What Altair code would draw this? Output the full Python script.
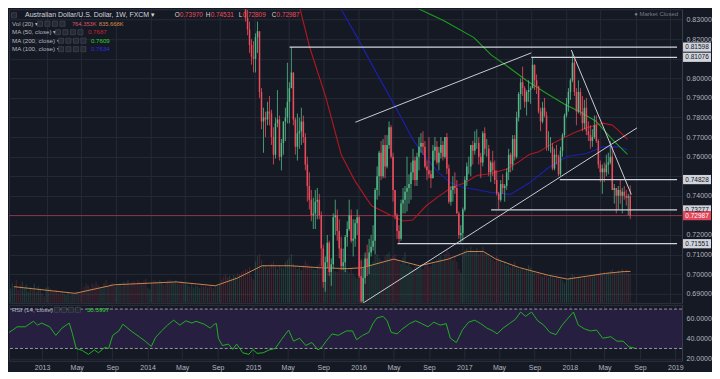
import altair as alt
import pandas as pd
import numpy as np

# ---------------- data ----------------
FIRST_WEEK = "2012-08-27"
closes_2012 = [1.0310, 1.0440, 1.0560, 1.0470, 1.0380, 1.0230, 1.0240, 1.0380, 1.0380, 1.0400,
               1.0410, 1.0360, 1.0460, 1.0430, 1.0460, 1.0540, 1.0470, 1.0380, 1.0470]
closes_2013 = [1.0530, 1.0500, 1.0430, 1.0410, 1.0320, 1.0300, 1.0220, 1.0190, 1.0250, 1.0410,
               1.0460, 1.0420, 1.0480, 1.0550, 1.0270, 1.0310, 1.0210, 1.0020, 0.9830, 0.9620,
               0.9680, 0.9540, 0.9530, 0.9290, 0.9140, 0.9060, 0.9170, 0.9270, 0.9280, 0.8920,
               0.9170, 0.9130, 0.8970, 0.8930, 0.9200, 0.9290, 0.9340, 0.9310, 0.9450, 0.9420,
               0.9680, 0.9570, 0.9450, 0.9410, 0.9370, 0.9170, 0.9090, 0.9100, 0.9000, 0.8870,
               0.8900, 0.8930]
closes_2014 = [0.9000, 0.8800, 0.8740, 0.8740, 0.8930, 0.9030, 0.8970, 0.8930, 0.9030, 0.9010,
               0.9120, 0.9270, 0.9310, 0.9400, 0.9330, 0.9280, 0.9290, 0.9350, 0.9370, 0.9250,
               0.9300, 0.9320, 0.9390, 0.9410, 0.9430, 0.9360, 0.9400, 0.9390, 0.9400, 0.9290,
               0.9280, 0.9310, 0.9300, 0.9360, 0.9360, 0.9070, 0.8970, 0.8740, 0.8710, 0.8780,
               0.8750, 0.8750, 0.8800, 0.8640, 0.8700, 0.8620]
# candles visible in the pane (from 2014-11-24)
closes_c = [0.8500, 0.8310, 0.8250, 0.8170, 0.8110, 0.8100,
            # 2015
            0.8210, 0.8240, 0.7930, 0.7780, 0.7800, 0.7790, 0.7830, 0.7820, 0.7700, 0.7610,
            0.7770, 0.7790, 0.7600, 0.7670, 0.7780, 0.7800, 0.7880, 0.7950, 0.8030, 0.7790,
            0.7650, 0.7720, 0.7730, 0.7780, 0.7700, 0.7560, 0.7450, 0.7380, 0.7300, 0.7310,
            0.7370, 0.7380, 0.7300, 0.7130, 0.6960, 0.7060, 0.7160, 0.7010, 0.7050, 0.7290,
            0.7300, 0.7220, 0.7130, 0.7040, 0.7060, 0.7190, 0.7230, 0.7300, 0.7170, 0.7180,
            0.7260, 0.7290,
            # 2016
            0.6990, 0.6860, 0.6980, 0.7080, 0.7040, 0.7110, 0.7140, 0.7170, 0.7430, 0.7500,
            0.7620, 0.7500, 0.7660, 0.7550, 0.7660, 0.7750, 0.7600, 0.7430, 0.7300, 0.7220,
            0.7180, 0.7360, 0.7380, 0.7420, 0.7440, 0.7460, 0.7520, 0.7580, 0.7480, 0.7600,
            0.7650, 0.7670, 0.7650, 0.7550, 0.7530, 0.7510, 0.7490, 0.7630, 0.7650, 0.7570,
            0.7620, 0.7660, 0.7600, 0.7700, 0.7540, 0.7370, 0.7430, 0.7450, 0.7440, 0.7310,
            0.7200, 0.7210,
            # 2017
            0.7330, 0.7480, 0.7550, 0.7550, 0.7660, 0.7630, 0.7670, 0.7670, 0.7600, 0.7570,
            0.7720, 0.7640, 0.7640, 0.7520, 0.7570, 0.7530, 0.7480, 0.7410, 0.7380, 0.7460,
            0.7440, 0.7450, 0.7520, 0.7610, 0.7560, 0.7690, 0.7600, 0.7800, 0.7920, 0.7980,
            0.7950, 0.7880, 0.7930, 0.7940, 0.7950, 0.8070, 0.7990, 0.7960, 0.7830, 0.7780,
            0.7850, 0.7810, 0.7650, 0.7650, 0.7650, 0.7540, 0.7610, 0.7600, 0.7510, 0.7630,
            0.7710, 0.7810,
            # 2018
            0.7870, 0.7930, 0.7990, 0.8080, 0.7930, 0.7830, 0.7930, 0.7830, 0.7770, 0.7850,
            0.7730, 0.7710, 0.7680, 0.7700, 0.7760, 0.7680, 0.7560, 0.7520, 0.7540, 0.7520,
            0.7560, 0.7570, 0.7600, 0.7430, 0.7440, 0.7400, 0.7430, 0.7400, 0.7420, 0.7400,
            0.7390, 0.7397, 0.72987]
highs_c = [0.8640, 0.8520, 0.8350, 0.8290, 0.8200, 0.8190,
           0.8230, 0.8290, 0.8240, 0.7950, 0.7850, 0.7830, 0.7880, 0.7910, 0.7840, 0.7750,
           0.7800, 0.7940, 0.7810, 0.7690, 0.7780, 0.7850, 0.8080, 0.7980, 0.8160, 0.8030,
           0.7800, 0.7820, 0.7800, 0.7850, 0.7810, 0.7720, 0.7600, 0.7520, 0.7430, 0.7390,
           0.7430, 0.7440, 0.7410, 0.7320, 0.7150, 0.7090, 0.7200, 0.7170, 0.7080, 0.7310,
           0.7380, 0.7330, 0.7280, 0.7190, 0.7130, 0.7200, 0.7270, 0.7380, 0.7330, 0.7280,
           0.7280, 0.7330,
           0.7300, 0.7070, 0.7030, 0.7110, 0.7150, 0.7180, 0.7200, 0.7250, 0.7440, 0.7550,
           0.7630, 0.7680, 0.7690, 0.7710, 0.7710, 0.7780, 0.7760, 0.7620, 0.7420, 0.7310,
           0.7250, 0.7380, 0.7440, 0.7450, 0.7600, 0.7510, 0.7570, 0.7640, 0.7600, 0.7620,
           0.7700, 0.7720, 0.7730, 0.7680, 0.7580, 0.7700, 0.7530, 0.7660, 0.7700, 0.7680,
           0.7650, 0.7700, 0.7680, 0.7700, 0.7720, 0.7560, 0.7450, 0.7500, 0.7520, 0.7480,
           0.7320, 0.7250,
           0.7340, 0.7500, 0.7570, 0.7600, 0.7660, 0.7680, 0.7730, 0.7740, 0.7700, 0.7620,
           0.7730, 0.7750, 0.7690, 0.7660, 0.7580, 0.7630, 0.7580, 0.7530, 0.7420, 0.7480,
           0.7510, 0.7460, 0.7540, 0.7640, 0.7620, 0.7710, 0.7710, 0.7830, 0.7930, 0.8000,
           0.8060, 0.7960, 0.7940, 0.7990, 0.7960, 0.8108, 0.8060, 0.8020, 0.7960, 0.7850,
           0.7880, 0.7900, 0.7830, 0.7730, 0.7700, 0.7670, 0.7640, 0.7660, 0.7610, 0.7650,
           0.7720, 0.7820,
           0.7900, 0.7950, 0.8000, 0.8136, 0.8110, 0.7950, 0.7990, 0.7950, 0.7910, 0.7890,
           0.7900, 0.7780, 0.7760, 0.7740, 0.7810, 0.7810, 0.7690, 0.7580, 0.7560, 0.7570,
           0.7610, 0.7620, 0.7680, 0.7650, 0.7460, 0.7440, 0.7450, 0.7480, 0.7440, 0.7450,
           0.7430, 0.7410, 0.74531]
lows_c = [0.8480, 0.8290, 0.8220, 0.8130, 0.8070, 0.8030,
          0.8030, 0.8130, 0.7900, 0.7740, 0.7620, 0.7700, 0.7760, 0.7760, 0.7660, 0.7560,
          0.7590, 0.7750, 0.7580, 0.7530, 0.7610, 0.7680, 0.7770, 0.7770, 0.7950, 0.7760,
          0.7610, 0.7580, 0.7640, 0.7660, 0.7670, 0.7530, 0.7370, 0.7330, 0.7270, 0.7230,
          0.7230, 0.7280, 0.7280, 0.7040, 0.6930, 0.6910, 0.7030, 0.6990, 0.6940, 0.7030,
          0.7200, 0.7170, 0.7080, 0.7020, 0.7020, 0.7010, 0.7140, 0.7220, 0.7160, 0.7090,
          0.7140, 0.7200,
          0.6980, 0.6830, 0.6830, 0.6950, 0.6990, 0.7000, 0.7090, 0.7120, 0.7100, 0.7380,
          0.7400, 0.7480, 0.7490, 0.7490, 0.7540, 0.7640, 0.7590, 0.7370, 0.7280, 0.7180,
          0.7155, 0.7170, 0.7310, 0.7310, 0.7320, 0.7360, 0.7380, 0.7480, 0.7450, 0.7450,
          0.7530, 0.7620, 0.7610, 0.7540, 0.7480, 0.7490, 0.7440, 0.7490, 0.7580, 0.7560,
          0.7530, 0.7590, 0.7580, 0.7590, 0.7510, 0.7360, 0.7350, 0.7370, 0.7410, 0.7310,
          0.7180, 0.7160,
          0.7170, 0.7320, 0.7450, 0.7510, 0.7500, 0.7560, 0.7610, 0.7640, 0.7560, 0.7490,
          0.7550, 0.7610, 0.7600, 0.7500, 0.7470, 0.7500, 0.7460, 0.7400, 0.7330, 0.7370,
          0.7410, 0.7370, 0.7430, 0.7480, 0.7520, 0.7530, 0.7580, 0.7590, 0.7780, 0.7840,
          0.7910, 0.7850, 0.7810, 0.7880, 0.7870, 0.7950, 0.7940, 0.7920, 0.7820, 0.7730,
          0.7770, 0.7800, 0.7630, 0.7630, 0.7620, 0.7530, 0.7530, 0.7560, 0.7500, 0.7500,
          0.7600, 0.7700,
          0.7800, 0.7830, 0.7890, 0.7980, 0.7910, 0.7760, 0.7820, 0.7810, 0.7730, 0.7740,
          0.7710, 0.7680, 0.7640, 0.7650, 0.7690, 0.7670, 0.7540, 0.7470, 0.7410, 0.7470,
          0.7500, 0.7510, 0.7560, 0.7430, 0.7360, 0.7310, 0.7330, 0.7360, 0.7310, 0.7380,
          0.7350, 0.7300, 0.72809]

# weekly volume (K), same weeks as all closes
vol_2012 = [380, 520, 450, 610, 340, 470, 560, 390, 480, 300, 420, 350, 510, 290, 440, 380, 260, 180, 400]
vol_2013 = [420, 390, 310, 280, 350, 260, 240, 300, 230, 210, 280, 190, 250, 220, 310, 260, 240,
            300, 420, 510, 460, 380, 520, 470, 560, 490, 430, 380, 520, 610, 450, 500, 540, 470, 430,
            480, 520, 450, 560, 510, 600, 470, 540, 580, 490, 620, 560, 500, 590, 640, 400, 360]
vol_2014 = [540, 600, 580, 520, 610, 560, 480, 530, 590, 620, 570, 540, 600, 510, 560, 580, 530,
            500, 470, 430, 520, 410, 460, 440, 390, 480, 420, 450, 400, 470, 430, 380, 460, 440, 500,
            620, 700, 760, 680, 720, 650, 740, 700, 780, 760, 820,
            850, 900, 880, 960, 700, 620]
vol_2015 = [1100, 1250, 1300, 1150, 1000, 980, 920, 950, 1050, 1100, 960, 900, 1000, 950, 920, 1080,
            1150, 1200, 1300, 1050, 980, 900, 950, 870, 1000, 1120, 1050, 980, 950, 900, 880, 1000,
            1050, 1200, 1300, 950, 880, 920, 1000, 950, 850, 820, 900, 960, 880, 920, 870, 800, 900,
            780, 700, 650]
vol_2016 = [1050, 1200, 1150, 1000, 950, 1020, 980, 1100, 1250, 1300, 1200, 1150, 1100, 1250, 1300,
            1350, 1200, 1250, 1300, 1150, 1100, 1050, 1200, 1350, 1000, 1050, 950, 900, 1000, 980,
            920, 950, 900, 1000, 1050, 950, 980, 1100, 1050, 1150, 1200, 1250, 1150, 1300, 1400,
            1350, 1200, 1150, 1250, 1100, 900, 800]
vol_2017 = [1300, 1400, 1450, 1350, 1500, 1400, 1350, 1450, 1300, 1400, 1500, 1350, 1300, 1250, 1200,
            1150, 1100, 1250, 1200, 1150, 1050, 1100, 1000, 1050, 950, 1000, 1100, 950, 900, 880,
            920, 850, 900, 1000, 950, 850, 800, 780, 820, 750, 700, 760, 720, 680, 740, 700, 650,
            720, 680, 650, 600, 520]
vol_2018 = [600, 650, 700, 760, 720, 650, 700, 680, 640, 700, 720, 680, 750, 700, 760, 720, 780, 800,
            750, 820, 780, 800, 850, 900, 820, 780, 860, 800, 900, 850, 880, 800, 764]

# Vol MA(20) line (decimal year, K)
volma_t = [2012.688, 2013.275, 2013.651, 2014.248, 2014.624, 2014.835, 2015.073, 2015.349, 2015.624,
           2015.899, 2016.037, 2016.339, 2016.587, 2016.862, 2017.046, 2017.202, 2017.321, 2017.550,
           2017.826, 2018.009, 2018.193, 2018.376, 2018.560, 2018.616]
volma_v = [430, 253, 481, 557, 455, 658, 987, 987, 936, 911, 936, 1164, 987, 1164, 1366, 1366, 1164,
           936, 734, 633, 708, 784, 835, 836]

# moving averages (decimal year, price)
ma50_t = [2015.257, 2015.440, 2015.532, 2015.688, 2015.835, 2015.963, 2016.083, 2016.128, 2016.312,
          2016.431, 2016.523, 2016.651, 2016.771, 2016.890, 2017.018, 2017.138, 2017.275, 2017.431,
          2017.523, 2017.642, 2017.734, 2017.890, 2018.073, 2018.193, 2018.349, 2018.440, 2018.495,
          2018.587]
ma50_v = [0.8552, 0.8353, 0.8159, 0.7902, 0.7611, 0.7480, 0.7383, 0.7349, 0.7300, 0.7271, 0.7276,
          0.7349, 0.7397, 0.7441, 0.7465, 0.7504, 0.7514, 0.7538, 0.7567, 0.7611, 0.7625, 0.7674,
          0.7722, 0.7747, 0.7771, 0.7761, 0.7737, 0.7688]
ma100_t = [2015.624, 2015.835, 2015.991, 2016.174, 2016.358, 2016.523, 2016.651, 2016.771, 2016.890,
           2017.018, 2017.138, 2017.275, 2017.459, 2017.642, 2017.826, 2018.009, 2018.193, 2018.349,
           2018.495, 2018.587]
ma100_v = [0.8548, 0.8353, 0.8208, 0.8028, 0.7853, 0.7688, 0.7591, 0.7518, 0.7465, 0.7441, 0.7431,
           0.7417, 0.7407, 0.7465, 0.7543, 0.7601, 0.7616, 0.7650, 0.7650, 0.7635]
ma200_t = [2016.174, 2016.587, 2016.817, 2017.110, 2017.275, 2017.431, 2017.615, 2017.798, 2017.982,
           2018.128, 2018.284, 2018.440, 2018.587]
ma200_v = [0.8475, 0.8353, 0.8295, 0.8208, 0.8120, 0.8062, 0.7989, 0.7926, 0.7868, 0.7829, 0.7781,
           0.7688, 0.7611]

# RSI(14) (decimal year, value)
rsi_t = [2012.688, 2012.727, 2012.765, 2012.842, 2012.919, 2012.958, 2012.996, 2013.073, 2013.131, 2013.189,
         2013.258, 2013.285, 2013.324, 2013.381, 2013.439, 2013.497, 2013.535, 2013.593, 2013.632, 2013.670,
         2013.728, 2013.767, 2013.844, 2013.921, 2013.978, 2014.036, 2014.075, 2014.133, 2014.190, 2014.248,
         2014.306, 2014.364, 2014.421, 2014.460, 2014.537, 2014.595, 2014.633, 2014.653, 2014.672, 2014.710,
         2014.768, 2014.807, 2014.845, 2014.903, 2014.961, 2014.999, 2015.038, 2015.096, 2015.153, 2015.211,
         2015.269, 2015.338, 2015.384, 2015.442, 2015.500, 2015.558, 2015.616, 2015.654, 2015.693, 2015.750,
         2015.808, 2015.885, 2015.943, 2015.982, 2016.039, 2016.097, 2016.136, 2016.174, 2016.232, 2016.270,
         2016.309, 2016.367, 2016.405, 2016.482, 2016.540, 2016.598, 2016.656, 2016.713, 2016.771, 2016.829,
         2016.868, 2016.925, 2016.983, 2017.041, 2017.099, 2017.156, 2017.214, 2017.272, 2017.310, 2017.368,
         2017.426, 2017.484, 2017.534, 2017.580, 2017.638, 2017.696, 2017.753, 2017.811, 2017.869, 2017.927,
         2017.985, 2018.035, 2018.081, 2018.139, 2018.196, 2018.254, 2018.312, 2018.389, 2018.447, 2018.505,
         2018.562, 2018.616]
rsi_v = [46.3, 49, 52, 52, 57.6, 53.7, 55.8, 52, 43.3, 50.7,
         55.8, 46.3, 30, 28, 24, 28.5, 25.6, 31, 30, 43.3,
         47.8, 54.6, 47.8, 41.9, 37.4, 32, 41, 47.8, 53.7, 58.7,
         53.7, 58.1, 55.8, 57.6, 54.6, 50.7, 54.6, 55.2, 40.4, 33,
         34.4, 29, 34.4, 25.6, 24, 29, 25, 25.6, 28.5, 30,
         38.9, 48.7, 37.4, 40.4, 33, 36, 28.5, 31.5, 37.4, 44.8,
         43.3, 47.8, 47.8, 38.9, 43.3, 46.3, 55.2, 61, 62.6, 58.1,
         46.3, 44.8, 49, 55.2, 58.1, 55.2, 52, 56.7, 53.7, 55.2,
         40.4, 36, 49, 56.7, 58.7, 55.2, 50.7, 47.8, 44.8, 50.7,
         55.2, 59.6, 67, 62.6, 67, 58.1, 53.7, 46.3, 44, 53.7,
         61, 67, 53.7, 49.9, 47.8, 48.7, 40.4, 41.9, 37.4, 37.4,
         31.5, 30.4]

# drawn horizontal levels (start decimal year, price)
hl_start = [2015.339, 2017.661, 2017.936, 2017.275, 2016.376]
hl_price = [0.81598, 0.81076, 0.74828, 0.73277, 0.71551]
# drawn trend lines
tl_t1 = [2015.972, 2016.037, 2018.046]
tl_p1 = [0.7776, 0.6849, 0.8145]
tl_t2 = [2017.661, 2018.679, 2018.624]
tl_p2 = [0.8130, 0.7747, 0.7407]
last_price = 0.72987
price_ticks = [0.69, 0.70, 0.71, 0.72, 0.73, 0.74, 0.75, 0.76, 0.77, 0.78, 0.79, 0.80, 0.81, 0.82, 0.83]

# ---------------- style / layout ----------------
W, HP, HR = 674, 294, 56
BG = "#151924"
GRID = "#252a36"
FONT = "Liberation Sans"
UP, DOWN = "#53b987", "#eb4d5c"
TXT = "#b2b5be"


def dy(v):
    y = int(np.floor(v))
    f = v - y
    a = pd.Timestamp(year=y, month=1, day=1)
    b = pd.Timestamp(year=y + 1, month=1, day=1)
    return (a + (b - a) * f).strftime("%Y-%m-%dT%H:%M:%S")


def dt(v):
    ts = pd.Timestamp(dy(v))
    return alt.DateTime(year=ts.year, month=ts.month, date=ts.day, hours=ts.hour)


X0, X1 = 2012.688, 2019.064
xscale = alt.Scale(domain=[dt(X0), dt(X1)])
xticks = [alt.DateTime(year=y, month=m, date=1) for y in range(2013, 2019) for m in (1, 5, 9)]
xticks.append(alt.DateTime(year=2019, month=1, date=1))

closes = closes_2012 + closes_2013 + closes_2014 + closes_c
off = len(closes_2012 + closes_2013 + closes_2014)
dates = pd.date_range(FIRST_WEEK, periods=len(closes), freq="7D").strftime("%Y-%m-%dT%H:%M:%S")

rows = []
for i in range(min(len(closes_c), len(highs_c), len(lows_c))):
    j = off + i
    o, c = closes[j - 1], closes[j]
    rows.append(dict(date=dates[j], open=o, close=c,
                     high=max(highs_c[i], o, c), low=min(lows_c[i], o, c),
                     dir="up" if c >= o else "down"))
cdf = pd.DataFrame(rows)

vols = vol_2012 + vol_2013 + vol_2014 + vol_2015 + vol_2016 + vol_2017 + vol_2018
n = min(len(vols), len(closes))
vdf = pd.DataFrame(dict(date=dates[:n], vol=vols[:n],
                        dir=["up"] + ["up" if closes[k] >= closes[k - 1] else "down" for k in range(1, n)]))
vmadf = pd.DataFrame(dict(date=[dy(t) for t in volma_t], vol=volma_v))

ysc = alt.Scale(domain=[0.6853, 0.8353], nice=False, zero=False)
price_axis = alt.Axis(orient="right", values=price_ticks, format=".5f", grid=True, ticks=False,
                      labelPadding=4, title=None,
                      labelExpr="indexof(['0.81000','0.75000','0.73000'], datum.label) >= 0 ? '' : datum.label")
top_xaxis = alt.Axis(values=xticks, labels=False, ticks=False, domain=False, grid=True, title=None)


def XT(field="date"):
    return alt.X(f"{field}:T", scale=xscale, title=None, axis=top_xaxis)


def YP(field):
    return alt.Y(f"{field}:Q", scale=ysc, axis=price_axis, title=None)


dircol = alt.Color("dir:N", scale=alt.Scale(domain=["up", "down"], range=[UP, DOWN]), legend=None)

vsc = alt.Scale(domain=[0, 7818], nice=False, zero=True)
vol_bars = alt.Chart(vdf).mark_bar(size=1.2, opacity=0.2, clip=True).encode(
    x=XT(), y=alt.Y("vol:Q", scale=vsc, axis=None), color=dircol)
vol_ma = alt.Chart(vmadf).mark_line(color="#c8844d", strokeWidth=1, clip=True).encode(
    x=XT(), y=alt.Y("vol:Q", scale=vsc, axis=None))
vol_layer = alt.layer(vol_bars, vol_ma)

ly = []
ly.append(alt.Chart(pd.DataFrame({"price": [last_price]})).mark_rule(color="#8e3546", strokeWidth=1).encode(
    y=YP("price")))


def ma_line(ts, vs, color):
    d = pd.DataFrame(dict(date=[dy(t) for t in ts], price=vs))
    return alt.Chart(d).mark_line(color=color, strokeWidth=1.1, clip=True).encode(x=XT(), y=YP("price"))


ly.append(ma_line(ma50_t, ma50_v, "#b0181f"))
ly.append(ma_line(ma100_t, ma100_v, "#1c1fb0"))
ly.append(ma_line(ma200_t, ma200_v, "#1e9e1e"))

ly.append(alt.Chart(cdf).mark_rule(strokeWidth=0.8, clip=True).encode(
    x=XT(), y=YP("low"), y2="high:Q", color=dircol))
ly.append(alt.Chart(cdf).mark_bar(size=1.5, clip=True).encode(
    x=XT(), y=YP("open"), y2="close:Q", color=dircol))

hdf = pd.DataFrame(dict(t1=[dy(t) for t in hl_start], t2=[dy(X1)] * len(hl_start), price=hl_price))
ly.append(alt.Chart(hdf).mark_rule(color="#d1d4dc", strokeWidth=1.2, clip=True).encode(
    x=XT("t1"), x2="t2:T", y=YP("price")))
tdf = pd.DataFrame(dict(t1=[dy(t) for t in tl_t1], t2=[dy(t) for t in tl_t2], p1=tl_p1, p2=tl_p2))
ly.append(alt.Chart(tdf).mark_rule(color="#c9ccd3", strokeWidth=1, clip=True).encode(
    x=XT("t1"), x2="t2:T", y=YP("p1"), y2="p2:Q"))

# right-side price tags
tag_price = hl_price + [last_price]
tag_fill = ["#d1d4dc"] * len(hl_price) + ["#e0455a"]
tag_txt = ["#131722"] * len(hl_price) + ["#ffffff"]
tagdf = pd.DataFrame(dict(price=tag_price, fill=tag_fill, tcol=tag_txt,
                          label=[f"{p:.5f}" for p in tag_price]))
BOX = "M-1,-0.33L1,-0.33L1,0.33L-1,0.33Z"
ly.append(alt.Chart(tagdf).mark_point(shape=BOX, size=784, filled=True, opacity=1, strokeWidth=0).encode(
    x=alt.value(W + 15), y=YP("price"), color=alt.Color("fill:N", scale=None)))
ly.append(alt.Chart(tagdf).mark_text(font=FONT, fontSize=6.5, align="center", baseline="middle").encode(
    x=alt.value(W + 15), y=YP("price"), text="label:N", color=alt.Color("tcol:N", scale=None)))

one = pd.DataFrame({"a": [0]})


def txt(s, x, y, color=TXT, size=6.2, align="left"):
    return alt.Chart(one).mark_text(text=s, font=FONT, fontSize=size, align=align, baseline="middle",
                                    color=color).encode(x=alt.value(x), y=alt.value(y))


def icon(x, y):
    return alt.Chart(one).mark_point(shape="square", size=26, filled=True, fill="#262a35",
                                     stroke="#4a4e5a", strokeWidth=0.6, opacity=1).encode(
        x=alt.value(x), y=alt.value(y))


ann = [
    icon(5, 6),
    txt("Australian Dollar/U.S. Dollar, 1W, FXCM \u25be", 16, 6, "#d1d4dc", 7),
    txt("O", 166, 6, "#d1d4dc", 6.4), txt("0.73970", 171, 6, DOWN, 6.4),
    txt("H", 197, 6, "#d1d4dc", 6.4), txt("0.74531", 202, 6, DOWN, 6.4),
    txt("L", 230, 6, "#d1d4dc", 6.4), txt("0.72809", 234, 6, DOWN, 6.4),
    txt("C", 263, 6, "#d1d4dc", 6.4), txt("0.72987", 268, 6, DOWN, 6.4),
    txt("Vol (20) \u25be", 3, 14.5), txt("764.353K", 63, 14.5, "#d9566a", 5.8),
    txt("835.668K", 90, 14.5, "#d98c4a", 5.8),
    txt("MA (50, close) \u25be", 3, 23), txt("0.7687", 79, 23, "#c0282e"),
    txt("MA (200, close) \u25be", 3, 31.5), txt("0.7609", 82, 31.5, "#2fd12f"),
    txt("MA (100, close) \u25be", 3, 40), txt("0.7634", 82, 40, "#2b2be0"),
    txt("\u25cf Market Closed", 670, 5, "#787b86", 6, "right"),
]
for k in range(4):
    ann.append(icon(31 + 7.5 * k, 14.5))
    ann.append(icon(49 + 7.5 * k, 23))
    ann.append(icon(52 + 7.5 * k, 31.5))
    ann.append(icon(52 + 7.5 * k, 40))

price_layer = alt.layer(*ly, *ann)
top = alt.layer(vol_layer, price_layer).resolve_scale(y="independent").properties(width=W, height=HP)

# ---------------- RSI pane ----------------
rsc = alt.Scale(domain=[17.5, 74.3], nice=False, zero=False)
rsi_axis = alt.Axis(orient="right", values=[20, 40, 60], format=".4f", grid=True, ticks=False,
                    labelPadding=4, title=None)
bot_xaxis = alt.Axis(values=xticks, grid=True, ticks=False, domain=False, labelPadding=3,
                     labelOverlap=False, labelFlush=False, labelBound=False, title=None,
                     labelExpr="month(datum.value) == 0 ? timeFormat(datum.value, '%Y') : timeFormat(datum.value, '%b')")


def XB(field="date"):
    return alt.X(f"{field}:T", scale=xscale, title=None, axis=bot_xaxis)


def YR(field):
    return alt.Y(f"{field}:Q", scale=rsc, axis=rsi_axis, title=None)


band = alt.Chart(pd.DataFrame(dict(date=[dy(X0)], t2=[dy(X1)], a=[70], b=[30]))).mark_rect(
    color="#261f40").encode(x=XB(), x2="t2:T", y=YR("a"), y2="b:Q")
lvl = alt.Chart(pd.DataFrame({"v": [70, 30]})).mark_rule(color="#9598a1", strokeDash=[3, 2], strokeWidth=1).encode(
    y=YR("v"))
rdf = pd.DataFrame(dict(date=[dy(t) for t in rsi_t[:len(rsi_v)]], rsi=rsi_v[:len(rsi_t)]))
rline = alt.Chart(rdf).mark_line(color="#22b022", strokeWidth=1, clip=True).encode(x=XB(), y=YR("rsi"))
rann = [txt("RSI (14, close) \u25be", 3, 5), txt("30.3997", 78, 5, "#2fd12f")]
for k in range(4):
    rann.append(icon(48 + 7 * k, 5))
bottom = alt.layer(band, lvl, rline, *rann).properties(width=W, height=HR)

chart = alt.vconcat(top, bottom, spacing=0).properties(
    background=BG, padding={"left": 0, "top": 0, "right": 0, "bottom": 0}
).configure_view(stroke="#2f3340", strokeWidth=1).configure_axis(
    labelFont=FONT, labelFontSize=7, labelColor=TXT, gridColor=GRID, gridWidth=1, domainColor="#3a3e4a"
)

chart.save("out.html", embed_options={"renderer": "svg", "actions": False})
